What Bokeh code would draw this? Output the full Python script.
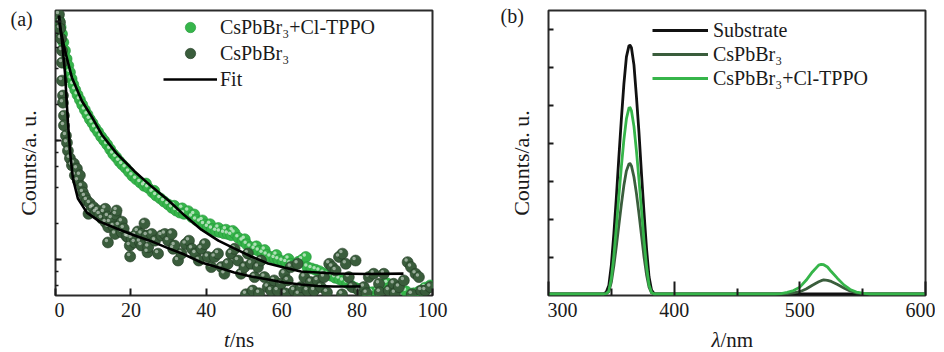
from bokeh.plotting import figure
from bokeh.layouts import row, column
from bokeh.models import (FixedTicker, LogTicker, Legend, LegendItem, Range1d,
                          CustomJSTickFormatter)
from bokeh.core.properties import value
from bokeh.embed import file_html
from bokeh.resources import INLINE

# ---------------- (a) time-resolved PL decay ----------------
t_ticks = [0, 20, 40, 60, 80, 100]

t_cl = [1.01, 1.36, 1.72, 2.07, 2.51, 2.95, 3.39, 3.83, 4.27, 4.71,
        5.24, 5.85, 6.47, 7.08, 7.79, 8.49, 9.11, 9.81, 10.5, 11.3,
        12.1, 12.9, 13.7, 14.5, 15.3, 16.1, 16.9, 17.7, 18.6, 19.5,
        20.4, 21.4, 22.5, 23.5, 24.0, 24.6, 25.7, 26.2, 26.7, 27.8,
        28.8, 29.9, 30.9, 31.5, 32.0, 33.0, 33.6, 34.1, 35.2, 36.2,
        36.8, 37.3, 38.3, 39.0, 39.4, 40.4, 41.0, 41.5, 42.6, 43.2,
        43.6, 44.7, 45.2, 45.7, 46.6, 47.0, 47.5, 48.5, 49.6, 50.2,
        50.7, 51.7, 52.8, 53.3, 53.9, 54.9, 55.5, 56.0, 57.0, 58.1,
        58.6, 59.1, 60.2, 61.2, 61.8, 62.3, 63.3, 64.4, 65.4, 66.4,
        66.8, 67.9, 69.0, 70.0, 71.1, 72.1, 73.2, 74.2, 75.3, 76.3,
        77.4, 78.5, 79.5, 80.6, 81.6, 82.7, 84.0, 85.5, 87.0, 88.0,
        89.5, 91.0, 93.0, 95.0, 96.5, 98.0, 99.4]
cnt_cl = [1018, 895, 787, 670, 570, 485, 427, 375, 330, 296,
          267, 242, 220, 200, 181, 165, 151, 140, 128, 118,
          108, 100, 92.5, 84.5, 77.2, 72.4, 67, 62.8, 58.9, 54.5,
          50.5, 47.3, 44.4, 41.6, 43.5, 40, 36.8, 37.8, 34.5, 32.6,
          30.7, 29, 27.2, 28.3, 25.8, 24.8, 26.9, 24.2, 25.5, 22.7,
          23.9, 21.5, 20.7, 21.3, 19.7, 18.7, 19.8, 18, 17.3, 18.4,
          17, 16.6, 17.8, 16.4, 16.0, 17.4, 16.7, 15.2, 14.3, 14.8,
          13.4, 12.7, 12.2, 12.9, 11.8, 11.3, 12.0, 10.9, 10.5, 10.2,
          10.9, 9.93, 9.68, 9.44, 10.1, 9.2, 8.96, 9.55, 9.93, 10.5,
          8.63, 8.4, 8.19, 7.98, 7.67, 7.48, 7.29, 7.02, 6.84, 6.58,
          6.33, 6.01, 5.78, 5.64, 5.49, 5.35, 5.3, 5.5, 6.2, 6.3,
          6.0, 5.8, 5.4, 5.2, 5.4, 5.8, 6.05]

t_pb = [0.92, 1.19, 1.19, 1.45, 1.72, 1.72, 1.72, 1.98, 1.98, 2.24,
        2.24, 2.77, 3.04, 3.30, 3.83, 4.36, 4.88, 5.15, 5.68, 5.94,
        6.47, 7.0, 7.26, 7.79, 8.32, 8.76, 9.11, 9.64, 10.1, 10.7,
        11.2, 11.7, 12.3, 12.8, 13.2, 13.3, 13.9, 13.9, 14.0, 14.4,
        14.9, 15.4, 15.8, 16.0, 16.2, 16.8, 17.6, 17.6, 18.1, 18.9,
        19.3, 19.7, 19.8, 20.2, 21.0, 21.1, 21.8, 22.4, 22.8, 22.8,
        23.6, 24.2, 24.4, 24.6, 25.5, 26.4, 27.2, 28.1, 29.0, 29.9,
        30.8, 31.2, 31.6, 32.5, 33.4, 34.5, 35.4, 36.2, 37.1, 38.0,
        38.7, 39.6, 40.4, 41.3, 42.2, 43.1, 44.0, 44.8, 45.7, 46.6,
        47.5, 48.4, 49.2, 50.1, 50.5, 51.0, 51.9, 52.3, 52.8, 53.7,
        54.0, 54.5, 55.4, 56.3, 57.2, 58.0, 58.9, 59.8, 60.7, 61.0,
        61.6, 62.4, 63.3, 64.2, 64.5, 65.1, 66.0, 66.8, 67.7, 68.6,
        69.5, 70.4, 71.2, 72.0, 72.6, 73.4, 74.3, 75.2, 76.0, 76.1,
        77.0, 77.8, 78.7, 79.6, 80.5, 81.8, 82.5, 83.1, 84.4, 85.8,
        86.0, 87.1, 88.4, 89.7, 90.0, 91.1, 92.4, 93.4, 94.3, 94.5,
        95.5, 96.4, 97.0, 98.1, 99.4]
cnt_pb = [1146, 982, 873, 720, 570, 452, 319, 239, 208, 162,
          134, 110, 96, 82, 71, 62, 64, 51, 58, 46,
          51, 41, 36.6, 33.8, 31.3, 24.2, 29.6, 26.8, 27.5, 24.8,
          25.8, 23.9, 22.1, 24.8, 26.7, 20.5, 13.9, 23, 18.7, 20.5,
          22.1, 18.9, 16.4, 23.9, 25.8, 19.3, 16.9, 20.8, 18.2, 15.6,
          15.4, 13.1, 10.6, 15, 13.9, 15.9, 17.2, 14.0, 13.1, 16.4,
          20.1, 15.9, 11.5, 12.7, 16.4, 14.4, 11.2, 15.9, 16.4, 14.4,
          16.4, 12.3, 13.1, 9.8, 11.2, 13.5, 14.4, 12.3, 11.2, 9.8,
          12.3, 13.5, 10.5, 8.63, 10.5, 11.2, 8.63, 7.59, 9.2, 11.2,
          12.3, 9.8, 7.59, 8.63, 5.1, 11.2, 9.2, 5.48, 7.11, 8.63,
          5.2, 9.8, 7.11, 5.86, 5.48, 6.67, 5.48, 6.25, 7.59, 5.2,
          6.67, 8.63, 5.48, 9.2, 5.1, 5.86, 7.11, 5.48, 6.46, 5.48,
          6.67, 5.86, 7.11, 5.3, 9.2, 8.63, 8.09, 10.5, 5.1, 11.2,
          9.2, 7.11, 5.86, 9.8, 5.48, 5.86, 5.2, 7.11, 7.59, 6.25,
          5.3, 7.59, 5.48, 6.25, 5.2, 5.86, 6.67, 9.5, 8.63, 5.1,
          7.59, 7.11, 5.48, 5.48, 5.86]

fit_cl_t = [0.92, 1.19, 2.51, 4.36, 7.0, 9.64, 12.28, 16.2, 21.0, 25.5, 30.0, 34.2,
            38.7, 43.2, 47.4, 51.9, 56.4, 60.6, 65.1, 69.6, 73.8, 82.8, 92.3]
fit_cl_y = [1122, 891, 570, 338, 215, 158, 112, 78, 55, 41, 31.3, 23.5,
            17.8, 14.4, 12.4, 10.6, 9.25, 8.57, 7.93, 7.78, 7.63, 7.55, 7.6]
fit_pb_t = [0.92, 1.72, 2.51, 3.30, 3.96, 4.62, 5.94, 8.32, 11.75, 16.2, 21.0, 25.5,
            30.0, 34.2, 38.7, 43.2, 47.4, 51.9, 56.4, 60.6, 65.1, 69.6, 73.8, 80.9]
fit_pb_y = [1122, 692, 372, 142, 74.8, 48, 32.6, 24.8, 20.8, 18.2, 15.9, 14.2,
            12.4, 11.0, 9.43, 8.57, 7.78, 7.2, 6.79, 6.41, 6.17, 5.99, 5.93, 5.93]

# ---------------- (b) spectra ----------------
wl_ticks = [300, 400, 500, 600]
wl_minor = [350, 450, 550]
y_ticks_b = [1, 2, 3, 4, 5, 6, 7]

wl = [300, 320, 340, 344, 346, 348, 350, 352, 354, 356,
      358, 360, 362, 364, 365, 366, 368, 370, 372, 374,
      376, 378, 380, 382, 384, 386, 400, 450, 480, 485,
      490, 495, 500, 505, 510, 515, 517, 519, 522, 525,
      530, 535, 540, 545, 550, 555, 570, 600]
substrate = [0.04, 0.04, 0.04, 0.05, 0.09, 0.26, 0.80, 1.62, 2.58, 3.64,
             4.65, 5.57, 6.28, 6.57, 6.58, 6.52, 6.07, 5.22, 4.29, 3.20,
             2.19, 1.24, 0.49, 0.14, 0.05, 0.04, 0.04, 0.04, 0.04, 0.04,
             0.04, 0.04, 0.04, 0.04, 0.04, 0.04, 0.04, 0.04, 0.04, 0.04,
             0.04, 0.04, 0.04, 0.04, 0.04, 0.04, 0.04, 0.04]
cspbbr3 = [0.04, 0.04, 0.04, 0.04, 0.05, 0.10, 0.35, 0.78, 1.30, 1.85,
           2.40, 2.90, 3.28, 3.46, 3.47, 3.41, 3.12, 2.68, 2.15, 1.58,
           1.02, 0.55, 0.22, 0.07, 0.04, 0.04, 0.04, 0.04, 0.04, 0.04,
           0.05, 0.07, 0.10, 0.17, 0.27, 0.36, 0.39, 0.41, 0.40, 0.37,
           0.29, 0.20, 0.12, 0.07, 0.05, 0.04, 0.04, 0.04]
cspbbr3_cl = [0.04, 0.04, 0.04, 0.04, 0.05, 0.12, 0.45, 1.05, 1.80, 2.62,
              3.40, 4.10, 4.65, 4.93, 4.94, 4.86, 4.45, 3.80, 3.05, 2.25,
              1.45, 0.78, 0.28, 0.08, 0.04, 0.04, 0.04, 0.04, 0.04, 0.05,
              0.08, 0.13, 0.22, 0.40, 0.62, 0.80, 0.82, 0.81, 0.75, 0.63,
              0.45, 0.28, 0.16, 0.09, 0.06, 0.04, 0.04, 0.04]

FONT = "Liberation Serif"
GREEN = "#36b54a"
GREEN_EDGE = "#23963a"
DARK = "#3a5d3c"
DARK_EDGE = "#223a24"
INK = "#1a1a1a"
BLANK = CustomJSTickFormatter(code="return ''")

FRAME_W, FRAME_H = 377, 285
TOP, BOTTOM = 10, 31
FIG_H = TOP + FRAME_H + BOTTOM
PAGE_H = 352


def style(p):
    p.outline_line_color = "#2b2b2b"
    p.outline_line_width = 2
    p.grid.visible = False
    p.title = None
    for ax in p.axis:
        ax.axis_label = None
        ax.axis_label_standoff = 0
        ax.axis_line_color = None
        ax.major_tick_out = 0
        ax.minor_tick_out = 0
        ax.major_tick_line_color = INK
        ax.minor_tick_line_color = INK
        ax.major_tick_line_width = 2
        ax.minor_tick_line_width = 1.5
        ax.major_label_text_font = FONT
        ax.major_label_text_font_size = "20px"
        ax.major_label_text_color = INK


def gutter(w, h):
    g = figure(width=w, height=h, x_range=Range1d(0, w), y_range=Range1d(0, h),
               min_border=0, x_axis_location=None, y_axis_location=None,
               output_backend="svg", toolbar_location=None)
    g.title = None
    g.outline_line_color = None
    g.grid.visible = False
    return g


def word(g, x, y, s, size="21px", align="left", baseline="middle", italic=False, angle=0.0):
    g.text(x=[x], y=[y], text=[s], text_font=value(FONT), text_font_size=value(size),
           text_color=INK, text_align=align, text_baseline=baseline, angle=angle,
           text_font_style="italic" if italic else "normal")


# ---------- panel (a) ----------
YLO, YHI = 4.98, 1240
p1 = figure(frame_width=FRAME_W, frame_height=FRAME_H, x_range=Range1d(0, 100),
            y_range=Range1d(YLO, YHI), y_axis_type="log",
            min_border_left=1, min_border_right=46, min_border_top=TOP, min_border_bottom=BOTTOM,
            output_backend="svg", toolbar_location=None)
style(p1)
p1.xaxis.ticker = FixedTicker(ticks=t_ticks)
p1.xaxis.major_tick_in = 7
p1.xaxis.major_label_standoff = 7
p1.yaxis.ticker = LogTicker()
p1.yaxis.formatter = BLANK
p1.yaxis.major_tick_in = 6
p1.yaxis.minor_tick_in = 3
p1.yaxis.major_label_standoff = 0

g = p1.scatter(t_cl, cnt_cl, size=11, fill_color=GREEN, line_color=GREEN_EDGE, line_width=0.6)
p1.scatter([t - 0.4 for t in t_cl], [c * 1.04 for c in cnt_cl], size=3.5,
           fill_color="white", fill_alpha=0.6, line_color=None)
d = p1.scatter(t_pb, cnt_pb, size=11, fill_color=DARK, line_color=DARK_EDGE, line_width=0.6)
p1.scatter([t - 0.4 for t in t_pb], [c * 1.04 for c in cnt_pb], size=3.5,
           fill_color="#e8efe8", fill_alpha=0.55, line_color=None)
f1 = p1.line(fit_cl_t, fit_cl_y, line_color="black", line_width=2.6)
p1.line(fit_pb_t, fit_pb_y, line_color="black", line_width=2.6)

leg1 = Legend(items=[LegendItem(label="CsPbBr₃+Cl-TPPO", renderers=[g]),
                     LegendItem(label="CsPbBr₃", renderers=[d]),
                     LegendItem(label="Fit", renderers=[f1])],
              location=(108, 203), glyph_width=54, glyph_height=26, label_height=26,
              spacing=0, padding=0, margin=0, label_standoff=3,
              border_line_color=None, background_fill_alpha=0,
              label_text_font=FONT, label_text_font_size="20px", label_text_color=INK)
p1.add_layout(leg1)

# gutters of panel (a): y label, panel tag, x label
gA = gutter(54, PAGE_H)
word(gA, 10, PAGE_H - 18, "(a)", size="20px")
word(gA, 28, PAGE_H - 162.5, "Counts/a. u.", size="22px", align="center", angle=1.5708)
W1 = 1 + FRAME_W + 46
BH = PAGE_H - FIG_H
bA = gutter(W1, BH)
word(bA, 196, 13, "t", align="right", italic=True)
word(bA, 196, 13, "/ns")

# ---------- panel (b) ----------
p2 = figure(frame_width=FRAME_W, frame_height=FRAME_H, x_range=Range1d(300, 600),
            y_range=Range1d(0, 7.5),
            min_border_left=1, min_border_right=10, min_border_top=TOP, min_border_bottom=BOTTOM,
            output_backend="svg", toolbar_location=None)
style(p2)
p2.xaxis.ticker = FixedTicker(ticks=wl_ticks, minor_ticks=wl_minor)
p2.xaxis.major_tick_in = 14
p2.xaxis.minor_tick_in = 7
p2.xaxis.minor_tick_line_width = 2
p2.xaxis.major_label_standoff = 7
p2.yaxis.ticker = FixedTicker(ticks=y_ticks_b)
p2.yaxis.formatter = BLANK
p2.yaxis.major_tick_in = 5
p2.yaxis.major_label_standoff = 0

l_sub = p2.line(wl, substrate, line_color="#111111", line_width=2.8, line_join="round")
l_pb = p2.line(wl, cspbbr3, line_color=DARK, line_width=2.8, line_join="round")
l_cl = p2.line(wl, cspbbr3_cl, line_color=GREEN, line_width=2.8, line_join="round")

leg2 = Legend(items=[LegendItem(label="Substrate", renderers=[l_sub]),
                     LegendItem(label="CsPbBr₃", renderers=[l_pb]),
                     LegendItem(label="CsPbBr₃+Cl-TPPO", renderers=[l_cl])],
              location=(104, 205), glyph_width=56, glyph_height=24, label_height=24,
              spacing=0, padding=0, margin=0, label_standoff=5,
              border_line_color=None, background_fill_alpha=0,
              label_text_font=FONT, label_text_font_size="20px", label_text_color=INK)
p2.add_layout(leg2)

gB = gutter(69, PAGE_H)
word(gB, 22, PAGE_H - 15, "(b)", size="20px")
word(gB, 43, PAGE_H - 162.5, "Counts/a. u.", size="22px", align="center", angle=1.5708)
W2 = 1 + FRAME_W + 10
bB = gutter(W2, BH)
word(bB, 177, 13, "λ", align="right", italic=True)
word(bB, 177, 13, "/nm")

layout = row(gA, column(p1, bA), gB, column(p2, bB))
open("out.html", "w").write(file_html(layout, INLINE))
